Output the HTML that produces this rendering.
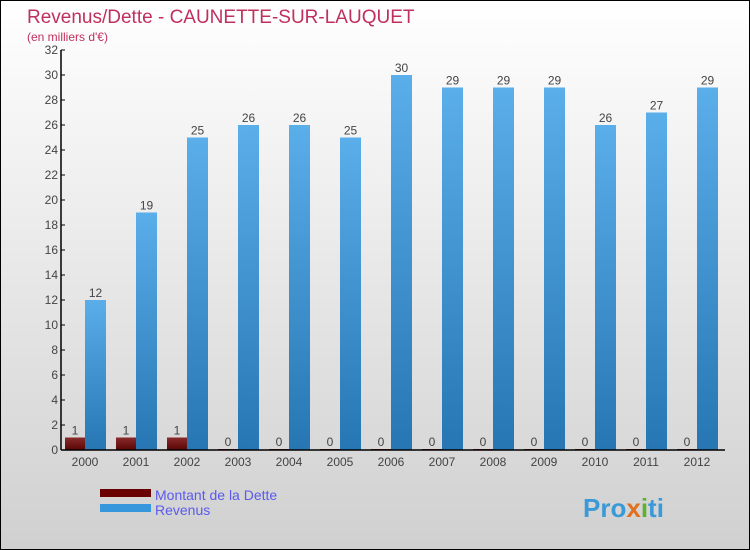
<!DOCTYPE html>
<html><head><meta charset="utf-8"><style>
body{margin:0}
#c{position:relative;width:748px;height:548px;border:1px solid #000;background:linear-gradient(#ffffff,#d0d0d0);font-family:"Liberation Sans",sans-serif;overflow:hidden}
</style></head><body>
<div id="c">
<svg width="748" height="548">
<defs>
<linearGradient id="gr" x1="0" y1="0" x2="0" y2="1"><stop offset="0" stop-color="#5aaeea"/><stop offset="1" stop-color="#2776b4"/></linearGradient>
<linearGradient id="gd" x1="0" y1="0" x2="0" y2="1"><stop offset="0" stop-color="#8a2b2b"/><stop offset="1" stop-color="#5a0505"/></linearGradient>
</defs>
<text x="26" y="22" font-size="19" fill="#c0305e">Revenus/Dette - CAUNETTE-SUR-LAUQUET</text>
<text x="26" y="40" font-size="12" fill="#c0305e">(en milliers d'€)</text>
<g id="plot"></g>
<rect x="99" y="488" width="51" height="8" fill="#6a0000"/>
<rect x="99" y="503" width="51" height="8" fill="#3797dd"/>
<text x="154" y="499" font-size="14" fill="#5a5aee">Montant de la Dette</text>
<text x="154" y="514" font-size="14" fill="#5a5aee">Revenus</text>
<text x="582" y="516" font-size="26" font-weight="bold" fill="#3a9ad8">Pro<tspan fill="#e07020">x</tspan><tspan fill="#60b030">i</tspan>ti</text>
</svg>
</div>
<script>
const years=["2000","2001","2002","2003","2004","2005","2006","2007","2008","2009","2010","2011","2012"];
const dette=[1,1,1,0,0,0,0,0,0,0,0,0,0];
const revenus=[12,19,25,26,26,25,30,29,29,29,26,27,29];
const yTicks=[0,2,4,6,8,10,12,14,16,18,20,22,24,26,28,30,32];
const NS="http://www.w3.org/2000/svg";
const g=document.getElementById('plot');
const y0=449,yTop=49,yMax=32,x0=60;
const ys=v=>y0-(y0-yTop)*v/yMax;
const xc=i=>84+51*i;
function el(t,a){const e=document.createElementNS(NS,t);for(const k in a)e.setAttribute(k,a[k]);g.appendChild(e);return e;}
years.forEach((yr,i)=>{
  const c=xc(i);
  const hd=Math.max(y0-ys(dette[i]),1);
  const d=el('rect',{x:c-20,y:y0-hd,width:20,height:hd,fill:'url(#gd)'});
  
  
  const r=el('rect',{x:c,y:ys(revenus[i]),width:21,height:y0-ys(revenus[i]),fill:'url(#gr)'});
  
  
  const t1=el('text',{x:c-10,y:y0-hd-3,'font-size':12,fill:'#444','text-anchor':'middle'});t1.textContent=dette[i];
  
  
  const t2=el('text',{x:c+10.5,y:ys(revenus[i])-3,'font-size':12,fill:'#444','text-anchor':'middle'});t2.textContent=revenus[i];
  
  
  const xl=el('text',{x:c,y:y0+16,'font-size':12,fill:'#444','text-anchor':'middle'});xl.textContent=yr;
  
  
});
yTicks.forEach(v=>{
  const tk=el('line',{x1:x0,x2:x0+4,y1:ys(v),y2:ys(v),stroke:'#000'});
  
  
  const t=el('text',{x:x0-3,y:ys(v)+4,'font-size':12,fill:'#444','text-anchor':'end'});t.textContent=v;
  
  
});
const ya=el('line',{x1:x0,x2:x0,y1:yTop,y2:y0,stroke:'#000','stroke-width':1.5});


const xa=el('line',{x1:x0,x2:724,y1:y0,y2:y0,stroke:'#000','stroke-width':1.5});


</script>
</body></html>
